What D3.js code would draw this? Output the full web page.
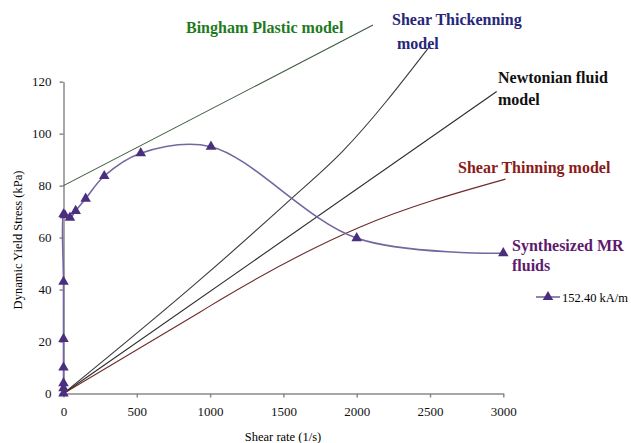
<!doctype html>
<html>
<head>
<meta charset="utf-8">
<script src="https://d3js.org/d3.v7.min.js"></script>
<style>
  body { margin: 0; background: #fff; }
  .axis text { font-family: "Liberation Serif", "Times New Roman", serif; font-size: 13px; fill: #111; }
  .axis path, .axis line { stroke: #8a8a8a; stroke-width: 1.5; }
  .note { font-family: "Liberation Serif", "Times New Roman", serif; font-weight: bold; font-size: 16px; }
</style>
</head>
<body>
<svg width="631" height="443"></svg>
<script>
// synthesized MR fluid, 152.40 kA/m
var mrRate   = [0, 0, 0, 0, 0, 0, 0, 10, 44, 83, 151, 278, 527, 1006, 2000, 3000];
var mrStress = [0, 2, 4, 10, 21, 43, 69, 68.6, 67.7, 70.3, 75, 83.7, 92.5, 95, 59.8, 54];

// model lines
var binghamRate = [0, 2111];
var binghamStress = [80, 141.8];
var thickRate = [0, 930, 1545, 1900, 2500];
var thickStress = [0, 43.7, 74.5, 93, 133.8];
var newtonRate = [0, 2955];
var newtonStress = [0, 116.2];
var thinRate = [0, 930, 1067, 2020, 3015];
var thinStress = [0, 31.3, 36, 64, 82.5];

var xTicks = [0, 500, 1000, 1500, 2000, 2500, 3000];
var yTicks = [0, 20, 40, 60, 80, 100, 120];

var svg = d3.select("svg");

var xScale = d3.scaleLinear().domain([0, 3000]).range([63.5, 503.3]),
    yScale = d3.scaleLinear().domain([0, 120]).range([393.5, 81.7]);

function pts(xs, ys) {
  return xs.map(function(d, i) { return [d, ys[i]]; });
}

// axes
svg.append("g")
  .attr("class", "axis")
  .attr("transform", "translate(0," + yScale(0) + ")")
  .call(d3.axisBottom(xScale).tickValues(xTicks).tickFormat(d3.format("d"))
    .tickSize(4).tickPadding(9).tickSizeOuter(0));

svg.append("g")
  .attr("class", "axis")
  .attr("transform", "translate(" + xScale(0) + ",0)")
  .call(d3.axisLeft(yScale).tickValues(yTicks).tickSize(4).tickPadding(8).tickSizeOuter(0));

svg.append("text")
  .attr("transform", "translate(19," + 240 + ") rotate(-90)")
  .attr("text-anchor", "middle")
  .attr("dominant-baseline", "middle")
  .style("font-family", "Liberation Serif, serif")
  .style("font-size", "12.5px")
  .text("Dynamic Yield Stress (kPa)");

svg.append("text")
  .attr("x", 283).attr("y", 441)
  .attr("text-anchor", "middle")
  .style("font-family", "Liberation Serif, serif")
  .style("font-size", "12.5px")
  .text("Shear rate (1/s)");

// model lines
var straight = d3.line()
  .x(function(d) { return xScale(d[0]); })
  .y(function(d) { return yScale(d[1]); });

var smooth = d3.line()
  .x(function(d) { return xScale(d[0]); })
  .y(function(d) { return yScale(d[1]); })
  .curve(d3.curveMonotoneX);

svg.append("path").datum(pts(binghamRate, binghamStress))
  .attr("d", straight).style("fill", "none").style("stroke", "#3d5a3d").style("stroke-width", 1.1);
svg.append("path").datum(pts(thickRate, thickStress))
  .attr("d", smooth).style("fill", "none").style("stroke", "#3a3a3a").style("stroke-width", 1.1);
svg.append("path").datum(pts(newtonRate, newtonStress))
  .attr("d", straight).style("fill", "none").style("stroke", "#2a2a2a").style("stroke-width", 1.1);
svg.append("path").datum(pts(thinRate, thinStress))
  .attr("d", smooth).style("fill", "none").style("stroke", "#6e2a2a").style("stroke-width", 1.1);

// MR fluid curve
var mrLine = d3.line()
  .x(function(d) { return xScale(d[0]); })
  .y(function(d) { return yScale(d[1]); })
  .curve(d3.curveCatmullRom.alpha(0.5));

svg.append("path").datum(pts(mrRate, mrStress))
  .attr("d", mrLine).style("fill", "none").style("stroke", "#7565a0").style("stroke-width", 1.6);

var tri = d3.symbol().type(d3.symbolTriangle).size(48);
svg.append("g").selectAll("path")
  .data(pts(mrRate, mrStress))
  .enter().append("path")
  .attr("d", tri)
  .attr("transform", function(d) { return "translate(" + xScale(d[0]) + "," + yScale(d[1]) + ")"; })
  .style("fill", "#4a2f7e");

// annotations
var notes = [
  ["Bingham Plastic model", 186, 33, "#1f7a1f"],
  ["Shear Thickenning", 392, 25, "#26267a"],
  [" model", 393, 49, "#26267a"],
  ["Newtonian fluid", 498, 83, "#111"],
  ["model", 498, 105, "#111"],
  ["Shear Thinning model", 458, 173, "#8b1a1a"],
  ["Synthesized MR", 512, 251, "#5e1a6e"],
  ["fluids", 512, 271, "#5e1a6e"]
];
svg.append("g").selectAll("text")
  .data(notes)
  .enter().append("text")
  .attr("class", "note")
  .attr("x", function(d) { return d[1]; })
  .attr("y", function(d) { return d[2]; })
  .style("fill", function(d) { return d[3]; })
  .style("white-space", "pre")
  .text(function(d) { return d[0]; });

// legend
var lg = svg.append("g").attr("transform", "translate(536,297)");
lg.append("line").attr("x1", 0).attr("x2", 24).attr("y1", 0).attr("y2", 0)
  .style("stroke", "#7565a0").style("stroke-width", 1.6);
lg.append("path").attr("d", tri).attr("transform", "translate(12,0)").style("fill", "#4a2f7e");
lg.append("text").attr("x", 26).attr("y", 4.5)
  .style("font-family", "Liberation Serif, serif").style("font-size", "12.5px")
  .text("152.40 kA/m");
</script>
</body>
</html>
